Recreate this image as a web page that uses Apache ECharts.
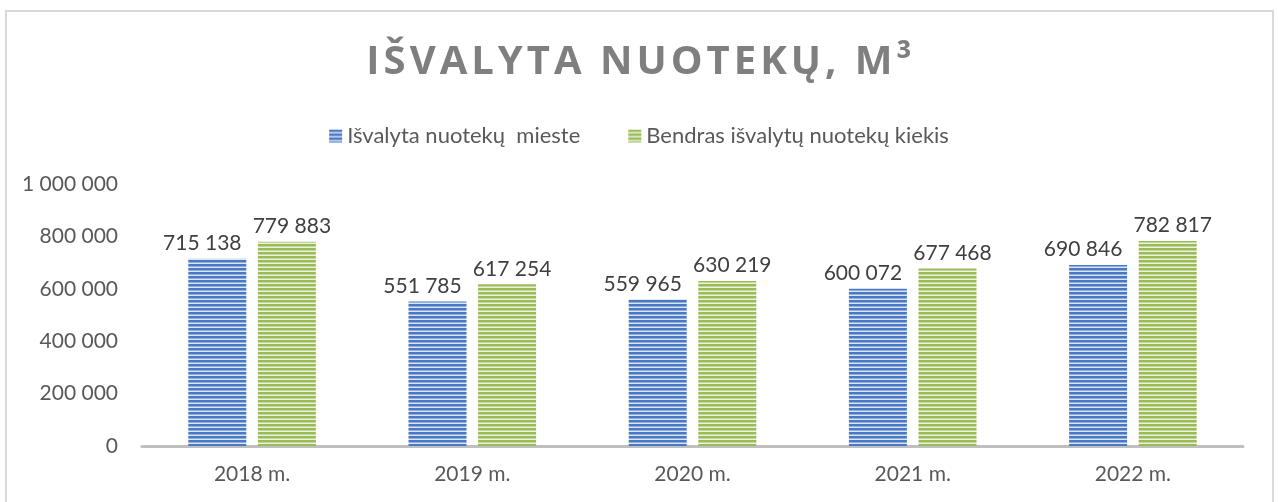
<!DOCTYPE html>
<html>
<head>
<meta charset="utf-8">
<script src="https://cdn.jsdelivr.net/npm/echarts@6/dist/echarts.min.js"></script>
<style>
html,body{margin:0;padding:0;background:#fff;}
#chart{width:1278px;height:502px;}
</style>
</head>
<body>
<div id="chart"></div>
<script>
var categories = ['2018 m.', '2019 m.', '2020 m.', '2021 m.', '2022 m.'];
var cityValues = [715138, 551785, 559965, 600072, 690846];
var totalValues = [779883, 617254, 630219, 677468, 782817];
var seriesNames = ['Išvalyta nuotekų  mieste', 'Bendras išvalytų nuotekų kiekis'];
var titleText = 'IŠVALYTA NUOTEKŲ, M³';

function stripes(dark, mid, light) {
  var c = document.createElement('canvas');
  c.width = 4; c.height = 4;
  var ctx = c.getContext('2d');
  ctx.fillStyle = dark; ctx.fillRect(0, 0, 4, 2);
  ctx.fillStyle = mid; ctx.fillRect(0, 2, 4, 1);
  ctx.fillStyle = light; ctx.fillRect(0, 3, 4, 1);
  return {image: c, repeat: 'repeat'};
}
function fmt(v) {
  return String(v).replace(/\B(?=(\d{3})+(?!\d))/g, ' ');
}
// spread the title letters a little (hair spaces)
function spread(s) {
  return s.split('').join('\u200A');
}

var blueFill = stripes('#4a79c3', '#8fadde', '#dbe5f5');
var greenFill = stripes('#9bbb59', '#c2d79a', '#eaf1dc');
var font = 'Lato, sans-serif';

var myChart = echarts.init(document.getElementById('chart'));
var option = {
  animation: false,
  textStyle: {fontFamily: font},
  title: {
    text: spread(titleText),
    left: 'center',
    top: 38,
    textStyle: {fontFamily: 'Open Sans', fontSize: 40, fontWeight: 'bold', color: '#7f7f7f'}
  },
  legend: {
    top: 120,
    left: 'center',
    itemWidth: 13,
    itemHeight: 13,
    itemGap: 48,
    itemTextGap: 5,
    textStyle: {fontSize: 22, color: '#595959', fontFamily: font},
    data: [
      {name: seriesNames[0], icon: 'rect', itemStyle: {color: blueFill}},
      {name: seriesNames[1], icon: 'rect', itemStyle: {color: greenFill}}
    ]
  },
  grid: {left: 142, right: 35, top: 184, bottom: 56},
  xAxis: {
    type: 'category',
    data: categories,
    axisLine: {lineStyle: {color: '#bfbfbf', width: 3}},
    axisTick: {show: false},
    axisLabel: {fontSize: 21, color: '#595959', margin: 18}
  },
  yAxis: {
    type: 'value',
    min: 0,
    max: 1000000,
    interval: 200000,
    splitLine: {show: false},
    axisLine: {show: false},
    axisLabel: {fontSize: 21, color: '#595959', margin: 24, formatter: fmt}
  },
  series: [
    {
      name: seriesNames[0],
      type: 'bar',
      data: cityValues,
      barWidth: 58,
      barGap: '20%',
      itemStyle: {color: blueFill},
      label: {show: true, position: 'top', distance: 5, offset: [-15, 0], fontSize: 21, color: '#404040', formatter: function (p) { return fmt(p.value); }}
    },
    {
      name: seriesNames[1],
      type: 'bar',
      data: totalValues,
      barWidth: 58,
      itemStyle: {color: greenFill},
      label: {show: true, position: 'top', distance: 5, offset: [5, 0], fontSize: 21, color: '#404040', formatter: function (p) { return fmt(p.value); }}
    }
  ],
  graphic: [{
    type: 'rect',
    shape: {x: 6, y: 11, width: 1267, height: 600},
    style: {fill: 'none', stroke: '#d9d9d9', lineWidth: 2},
    silent: true
  }]
};
myChart.setOption(option);
</script>
</body>
</html>
